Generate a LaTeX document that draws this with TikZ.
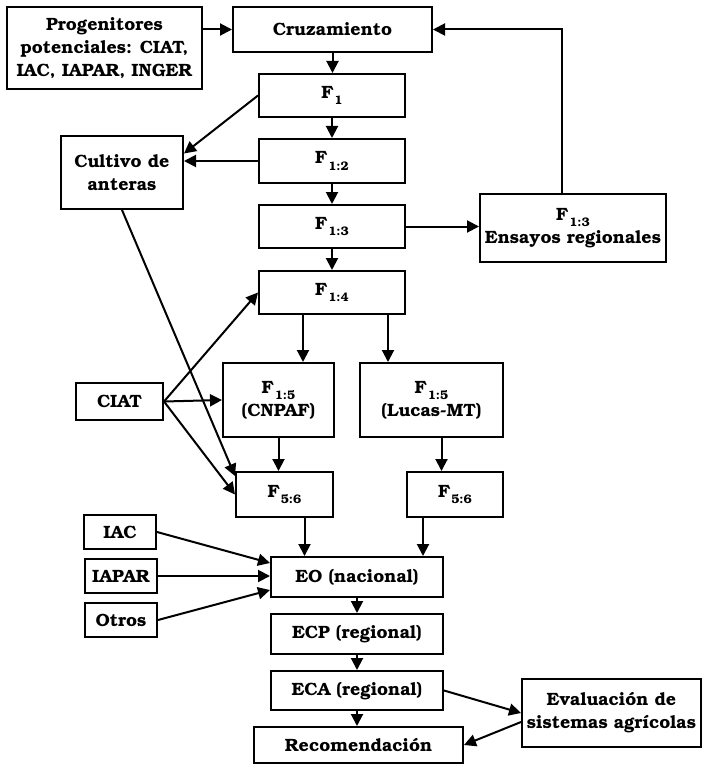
\documentclass[tikz,border=0pt]{standalone}
\usepackage[T1]{fontenc}
\usepackage{bookman}
\usetikzlibrary{arrows.meta, positioning}
\newcommand{\gen}[1]{F\kern1pt\raisebox{-6.5pt}{\fontsize{12.4}{13}\selectfont #1}}

\begin{document}
\begin{tikzpicture}[x=1pt, y=-1pt, font=\fontsize{17.8}{23}\selectfont\bfseries,
  box/.style={draw, line width=2pt, align=center, inner sep=1pt},
  arr/.style={line width=2pt, -{Triangle[length=12pt, width=12pt]}}]
  \useasboundingbox (0,0) rectangle (703,765);
  % main column
  \node[box, minimum width=195pt, minimum height=82pt] (prog) at (104.5,48) {Progenitores\\potenciales: CIAT,\\IAC, IAPAR, INGER};
  \node[box, minimum width=199pt, minimum height=45pt] (cruz) at (332.5,29.5) {Cruzamiento};
  \node[box, minimum width=146pt, minimum height=43pt] (f1) at (332,95.5) {\gen{1}};
  \node[box, minimum width=146pt, minimum height=44pt] (f12) at (332,161) {\gen{1:2}};
  \node[box, minimum width=146pt, minimum height=43pt] (f13) at (332,226.5) {\gen{1:3}};
  \node[box, minimum width=146pt, minimum height=43pt] (f14) at (332,292.5) {\gen{1:4}};
  \node[box, minimum width=122pt, minimum height=73pt] (cult) at (122,172.5) {Cultivo de\\anteras};
  \node[box, minimum width=186pt, minimum height=68pt] (ens) at (573,228) {\gen{1:3}\\Ensayos regionales};
  % selection branches
  \node[box, minimum width=87pt, minimum height=37pt] (ciat) at (119.5,401.5) {CIAT};
  \node[box, minimum width=111pt, minimum height=74pt] (f15a) at (278.5,400) {\gen{1:5}\\(CNPAF)};
  \node[box, minimum width=143pt, minimum height=74pt] (f15b) at (431.5,400) {\gen{1:5}\\(Lucas-MT)};
  \node[box, minimum width=97pt, minimum height=45pt] (f56a) at (284.5,494.5) {\gen{5:6}};
  \node[box, minimum width=96pt, minimum height=45pt] (f56b) at (455,494.5) {\gen{5:6}};
  % trials
  \node[box, minimum width=72pt, minimum height=34pt] (iac) at (120,532) {IAC};
  \node[box, minimum width=72pt, minimum height=34pt] (iapar) at (121,576) {IAPAR};
  \node[box, minimum width=72pt, minimum height=34pt] (otros) at (121,620) {Otros};
  \node[box, minimum width=172pt, minimum height=40pt] (eo) at (357,577) {EO (nacional)};
  \node[box, minimum width=172pt, minimum height=40pt] (ecp) at (357,634) {ECP (regional)};
  \node[box, minimum width=172pt, minimum height=39pt] (eca) at (357,690.5) {ECA (regional)};
  \node[box, minimum width=209pt, minimum height=36pt] (recom) at (358.5,745) {Recomendaci\'on};
  \node[box, minimum width=179pt, minimum height=68pt] (eval) at (611.5,713) {Evaluaci\'on de\\sistemas agr\'{\i}colas};

  \draw[arr] (prog.east |- cruz.west) -- (cruz.west);
  \draw[arr] (cruz.south) -- (cruz.south |- f1.north);
  \draw[arr] (f1.south) -- (f12.north);
  \draw[arr] (f12.south) -- (f13.north);
  \draw[arr] (f13.south) -- (f14.north);
  \draw[arr] (f1.west) -- ([yshift=19pt]cult.east);
  \draw[arr] (f12.west) -- (f12.west -| cult.east);
  \draw[arr] (f13.east) -- (f13.east -| ens.west);
  \draw[arr] ([xshift=-11pt]ens.north) |- (cruz.east);
  \draw[arr] (cult.south) -- ([yshift=-5pt]f56a.north west);
  \draw[arr] (ciat.east) -- (f14.west);
  \draw[arr] (ciat.east) -- (f15a.west);
  \draw[arr] (ciat.east) -- (f56a.west);
  \draw[arr] ([xshift=-29pt]f14.south) -- ([xshift=-29pt]f14.south |- f15a.north);
  \draw[arr] ([xshift=56pt]f14.south) -- ([xshift=56pt]f14.south |- f15b.north);
  \draw[arr] (f15a.south) -- (f15a.south |- f56a.north);
  \draw[arr] ([xshift=10pt]f15b.south) -- ([xshift=10pt]f15b.south |- f56b.north);
  \draw[arr] ([xshift=20pt]f56a.south) -- ([xshift=20pt]f56a.south |- eo.north);
  \draw[arr] ([xshift=-32pt]f56b.south) -- ([xshift=-32pt]f56b.south |- eo.north);
  \draw[arr] (iac.east) -- ([yshift=14pt]eo.west);
  \draw[arr] (iapar.east) -- (iapar.east -| eo.west);
  \draw[arr] (otros.east) -- ([yshift=-13pt]eo.west);
  \draw[arr] (eo.south) -- (ecp.north);
  \draw[arr] (ecp.south) -- (eca.north);
  \draw[arr] (eca.south) -- (eca.south |- recom.north);
  \draw[arr] (eca.east) -- (eval.west);
  \draw[arr] ([yshift=-9pt]eval.west) -- (recom.east);
\end{tikzpicture}
\end{document}
